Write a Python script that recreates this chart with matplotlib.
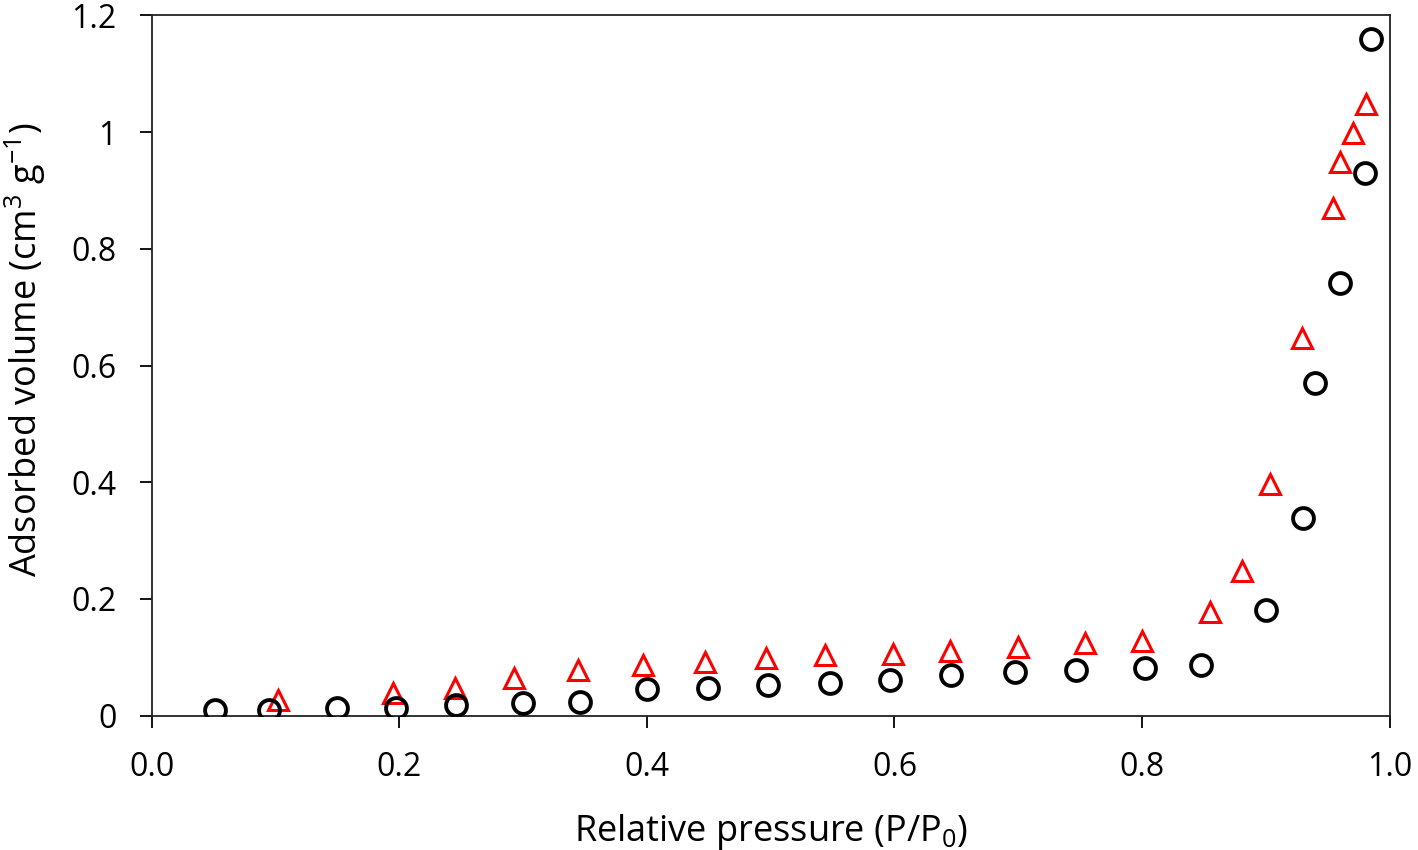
import matplotlib
matplotlib.use("Agg")
import matplotlib.pyplot as plt
from matplotlib.ticker import FixedLocator, FixedFormatter

plt.rcParams['font.family'] = ['Open Sans', 'DejaVu Sans']

# Series 1 (black circles)
p_circ = [0.051, 0.095, 0.150, 0.197, 0.246, 0.300, 0.346, 0.400, 0.449, 0.498,
          0.548, 0.596, 0.646, 0.697, 0.747, 0.802, 0.848, 0.900, 0.930, 0.940,
          0.960, 0.980, 0.985]
v_circ = [0.010, 0.010, 0.014, 0.014, 0.019, 0.022, 0.024, 0.045, 0.048, 0.053,
          0.056, 0.062, 0.070, 0.075, 0.079, 0.082, 0.087, 0.181, 0.339, 0.570,
          0.741, 0.929, 1.160]

# Series 2 (red triangles)
p_tri = [0.102, 0.195, 0.245, 0.293, 0.344, 0.397, 0.447, 0.496, 0.544, 0.599,
         0.645, 0.700, 0.754, 0.800, 0.855, 0.881, 0.903, 0.929, 0.954, 0.960,
         0.970, 0.981]
v_tri = [0.027, 0.039, 0.048, 0.065, 0.079, 0.087, 0.092, 0.099, 0.104, 0.106,
         0.111, 0.118, 0.125, 0.128, 0.178, 0.248, 0.397, 0.647, 0.870, 0.948,
         0.998, 1.048]

x_ticks = [0.0, 0.2, 0.4, 0.6, 0.8, 1.0]
x_labels = ["0.0", "0.2", "0.4", "0.6", "0.8", "1.0"]
y_ticks = [0, 0.2, 0.4, 0.6, 0.8, 1.0, 1.2]
y_labels = ["0", "0.2", "0.4", "0.6", "0.8", "1", "1.2"]

fig = plt.figure(figsize=(14.18, 8.5), dpi=100)
ax = fig.add_axes([0.107, 0.158, 0.873, 0.824])

ax.plot(p_tri, v_tri, linestyle='none', marker='^', markersize=15,
        markerfacecolor='none', markeredgecolor='#ff0000', markeredgewidth=2.2, zorder=3)
ax.plot(p_circ, v_circ, linestyle='none', marker='o', markersize=15,
        markerfacecolor='none', markeredgecolor='black', markeredgewidth=2.8, zorder=4)

ax.set_xlim(0, 1.0)
ax.set_ylim(0, 1.2)
ax.xaxis.set_major_locator(FixedLocator(x_ticks))
ax.xaxis.set_major_formatter(FixedFormatter(x_labels))
ax.yaxis.set_major_locator(FixedLocator(y_ticks))
ax.yaxis.set_major_formatter(FixedFormatter(y_labels))

ax.tick_params(direction='out', length=8.5, width=1.3, labelsize=23, colors='black')
ax.tick_params(axis='y', pad=17)
ax.tick_params(axis='x', pad=17)
for s in ax.spines.values():
    s.set_linewidth(1.3)
    s.set_color('#222222')

ax.set_xlabel(r"Relative pressure (P/P$_\mathregular{0}$)", fontsize=26, labelpad=20)
ax.set_ylabel(r"Adsorbed volume (cm$^\mathregular{3}$ g$^\mathregular{-1}$)", fontsize=26)
ax.yaxis.set_label_coords(-0.084, 0.523)

fig.savefig("out.png", dpi=100)
